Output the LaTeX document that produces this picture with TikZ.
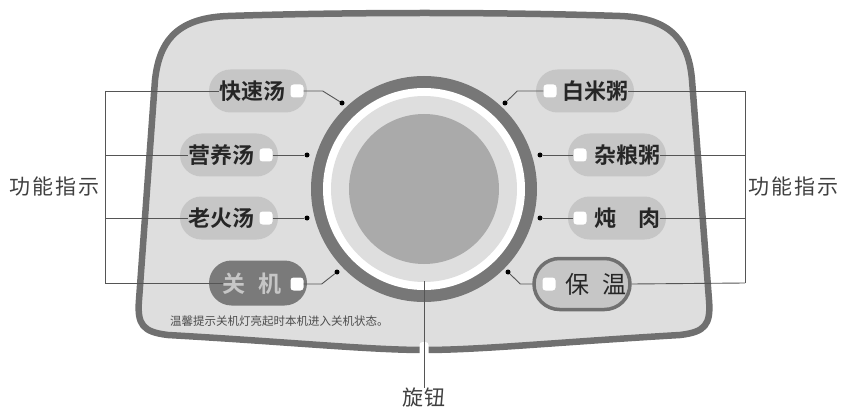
\documentclass[tikz,border=0pt]{standalone}
\usepackage{fontspec}
\newfontfamily\cjk[BoldFont={Noto Sans CJK SC Bold}]{Noto Sans CJK SC}
\usetikzlibrary{positioning}
\usetikzlibrary{shapes.misc}
\usetikzlibrary{calc}

\definecolor{panelfill}{HTML}{DEDEDE}
\definecolor{panelline}{HTML}{707070}
\definecolor{pillgray}{HTML}{C6C6C6}
\definecolor{darkpill}{HTML}{7A7A7A}
\definecolor{ringgray}{HTML}{777777}
\definecolor{knobgray}{HTML}{AAAAAA}
\definecolor{wiregray}{HTML}{555555}
\definecolor{labeltext}{HTML}{404040}

\begin{document}
\begin{tikzpicture}[x=1pt,y=-1pt,
pill/.style={rounded rectangle, fill=pillgray, minimum width=98pt, minimum height=43pt, inner sep=0pt},
led/.style={rectangle, rounded corners=3pt, fill=white, minimum size=13pt, inner sep=0pt},
btn/.style={font=\cjk\bfseries\fontsize{22}{22}\selectfont, text=black!85, inner sep=0pt},
pin/.style={circle, fill=black, minimum size=5pt, inner sep=0pt},
wire/.style={draw=wiregray, line width=0.9pt},
side/.style={font=\cjk\fontsize{21}{21}\selectfont, text=labeltext, inner sep=0pt}]
\useasboundingbox (0,0) rectangle (841,409);

% panel
\draw[fill=panelfill, draw=panelline, line width=6.5pt]
  (228,16) .. controls (350,12) and (500,12) .. (620,16)
  .. controls (675,18) and (689,45) .. (692,80)
  -- (709,300) .. controls (711,325) and (705,332) .. (680,335)
  .. controls (560,342) and (480,350) .. (424,350)
  .. controls (370,350) and (290,342) .. (168,335)
  .. controls (143,332) and (137,325) .. (139,300)
  -- (155,80) .. controls (159,45) and (173,18) .. (228,16) -- cycle;
\fill[white, rounded corners=3pt] (419.5,342) rectangle (428.5,357);

% knob
\coordinate (knob) at (424,189);
\fill[ringgray] (knob) circle (113);
\fill[white] (knob) circle (101);
\fill[panelfill] (knob) circle (93);
\fill[knobgray] (knob) circle (75);

% buttons, left
\foreach \n/\y/\px/\lx in {L1/91/258/297, L2/155/229/266, L3/218/229/266}{
  \node[pill] (\n) at (\px,\y) {};
  \node[led] (\n-l) at (\lx,\y) {};
}
\node[pill, fill=darkpill, minimum height=45pt] (L4) at (258,283) {};
\node[led] (L4-l) at (297,284) {};

% buttons, right
\foreach \n/\y/\px/\lx in {R1/91/585/550, R2/155/617/580, R3/218/617/580}{
  \node[pill] (\n) at (\px,\y) {};
  \node[led] (\n-l) at (\lx,\y) {};
}
\node[pill, draw=panelline, line width=3.5pt, minimum width=96pt, minimum height=51pt] (R4) at (582,284) {};
\node[led] (R4-l) at (549,284) {};

% pins on the ring
\node[pin] (L1-p) at (342,103) {};
\node[pin] (L2-p) at (307,155) {};
\node[pin] (L3-p) at (307,218) {};
\node[pin] (L4-p) at (337,272) {};
\node[pin] (R1-p) at (505,103) {};
\node[pin] (R2-p) at (540,155) {};
\node[pin] (R3-p) at (540,218) {};
\node[pin] (R4-p) at (508,272) {};

\draw[wire] (L1-l.east) -- ++(19,0) -- (L1-p);
\draw[wire] (L2-l.east) -- (L2-p);
\draw[wire] (L3-l.east) -- (L3-p);
\draw[wire] (L4-l.east) -- ++(18,0) -- (L4-p);
\draw[wire] (R1-l.west) -- ++(-26,0) -- (R1-p);
\draw[wire] (R2-l.west) -- (R2-p);
\draw[wire] (R3-l.west) -- (R3-p);
\draw[wire] (R4.west) -- ++(-12,0) -- (R4-p);

% brackets
\coordinate (ltop) at (105,91);
\coordinate (lbot) at (105,283);
\coordinate (rtop) at (745,91);
\coordinate (rbot) at (745,283);
\draw[wire] (ltop) -- (lbot);
\draw[wire] (rtop) -- (rbot);

% texts
\foreach \n/\y/\tx/\t in {L1/91/252/快速汤, L2/155/221/营养汤, L3/218/221/老火汤}{
  \node[btn] (\n-t) at (\tx,\y) {\t};
  \draw[wire] (\n-t.west -| ltop) -- (\n-t.west);
}
\draw[wire] (lbot) -- (224,283);
\node[btn, text=pillgray, font=\cjk\bfseries\fontsize{23}{23}\selectfont] (L4-t) at (252,284) {关\hspace{14pt}机};
\foreach \n/\y/\tx/\t in {R1/91/595/白米粥, R2/155/627/杂粮粥, R3/218/627/炖\hspace{22pt}肉}{
  \node[btn] (\n-t) at (\tx,\y) {\t};
  \draw[wire] (\n-t.east) -- (\n-t.east -| rtop);
}
\node[btn, font=\cjk\fontsize{24}{24}\selectfont] (R4-t) at (596,284) {保\hspace{14pt}温};
\draw[wire] (R4.east) -- (rbot);

\node[side, left=5pt of {$(ltop)!0.5!(lbot)$}] (lside) {功\hspace{2pt}能\hspace{2pt}指\hspace{2pt}示};
\node[side, right=3pt of {$(rtop)!0.5!(rbot)$}] (rside) {功\hspace{2pt}能\hspace{2pt}指\hspace{2pt}示};

\node[font=\cjk\fontsize{11.5}{11.5}\selectfont, text=black!70, anchor=west, inner sep=0pt] (tip) at (170,321) {温馨提示关机灯亮起时本机进入关机状态。};

% knob label
\coordinate (knob-b) at (424,281);
\node[side] (knob-t) at (424,398) {旋\hspace{1pt}钮};
\draw[wire] (knob-b) -- (knob-t.north);
\end{tikzpicture}
\end{document}
